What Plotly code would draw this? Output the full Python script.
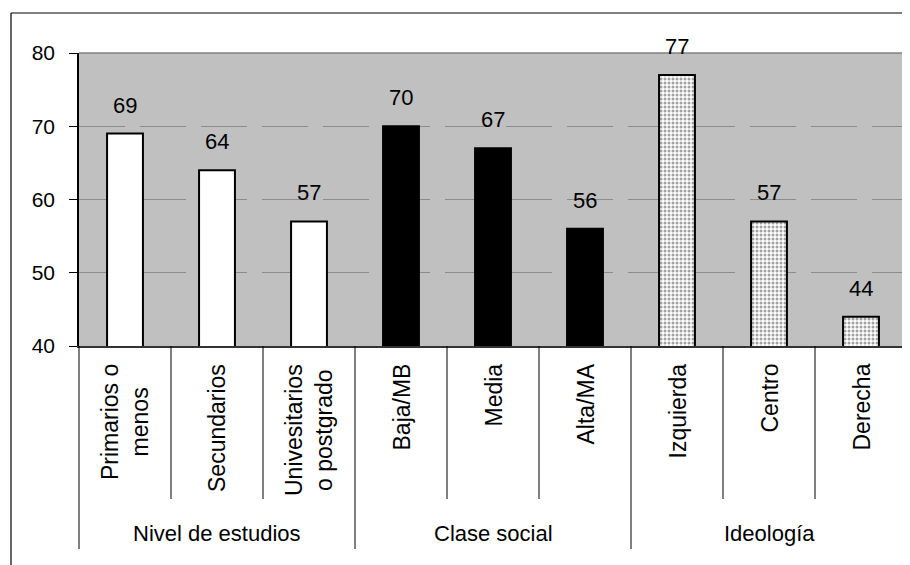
import plotly.graph_objects as go

categories = ["Primarios o<br>menos", "Secundarios", "Univesitarios<br>o postgrado",
              "Baja/MB", "Media", "Alta/MA",
              "Izquierda", "Centro", "Derecha"]
values = [69, 64, 57, 70, 67, 56, 77, 57, 44]
groups = ["Nivel de estudios", "Clase social", "Ideología"]
group_sizes = [3, 3, 3]
fill_colors = ["white", "white", "white", "black", "black", "black", "white", "white", "white"]
patterns = ["", "", "", "", "", "", ".", ".", "."]
y_ticks = [40, 50, 60, 70, 80]

OFF = 8  # page body margin
W, H = 910 - OFF, 565 - OFF
L, T = 79 - OFF, 53 - OFF
RIGHT, BOTTOM = 907 - OFF, 346 - OFF
R, B = W - RIGHT, H - BOTTOM
plot_h = BOTTOM - T
plot_w = RIGHT - L

def py(pix):
    # reference pixel y (from top of window) -> paper y
    return (BOTTOM - (pix - OFF)) / plot_h

def px(pix):
    return ((pix - OFF) - L) / plot_w

FONT = "Liberation Sans, Arial"
x = list(range(len(categories)))
n = len(categories)

fig = go.Figure()
fig.add_trace(go.Bar(
    x=x, y=values, width=0.39,
    marker=dict(color=fill_colors, line=dict(color="black", width=2),
                pattern=dict(shape=patterns, fgcolor="black", bgcolor="white",
                             size=4, solidity=0.45, fillmode="overlay")),
    hoverinfo="skip", showlegend=False,
))

annotations = []
for xi, v in zip(x, values):
    annotations.append(dict(x=xi, y=v, xref="x", yref="y", text=str(v), showarrow=False,
                            yanchor="bottom", yshift=14,
                            font=dict(family=FONT, size=22, color="black")))
for xi, c in zip(x, categories):
    annotations.append(dict(x=(xi + 0.5) / n, y=py(362), xref="paper", yref="paper", text=c,
                            showarrow=False, textangle=-90, yanchor="top", xanchor="center",
                            align="center",
                            font=dict(family=FONT, size=23, color="black")))
start = 0
for g, s in zip(groups, group_sizes):
    annotations.append(dict(x=(start + s / 2) / n, y=py(533), xref="paper", yref="paper", text=g,
                            showarrow=False, yanchor="middle", xanchor="center",
                            font=dict(family=FONT, size=22, color="black")))
    start += s

shapes = []
bounds = set([0])
acc = 0
for s in group_sizes:
    acc += s
    bounds.add(acc)
for k in range(n + 1):
    bottom = 549 if k in bounds else 499
    shapes.append(dict(type="line", xref="paper", yref="paper", x0=k / n, x1=k / n,
                       y0=0, y1=py(bottom), line=dict(color="black", width=1)))
# plot area border (top/right)
shapes.append(dict(type="line", xref="paper", yref="paper", x0=0, x1=1, y0=1, y1=1,
                   line=dict(color="#808080", width=1.5)))
shapes.append(dict(type="line", xref="paper", yref="paper", x0=1, x1=1, y0=0, y1=1,
                   line=dict(color="#808080", width=1.5)))
# outer chart frame (left, top)
shapes.append(dict(type="line", xref="paper", yref="paper", x0=px(11), x1=px(11),
                   y0=py(13), y1=py(570), line=dict(color="black", width=1.2)))
shapes.append(dict(type="line", xref="paper", yref="paper", x0=px(11), x1=px(915),
                   y0=py(13), y1=py(13), line=dict(color="black", width=1.2)))

fig.update_layout(
    width=W, height=H,
    margin=dict(l=L, r=R, t=T, b=B, pad=0),
    paper_bgcolor="white", plot_bgcolor="#C0C0C0",
    font=dict(family=FONT, size=21, color="black"),
    annotations=annotations, shapes=shapes,
    xaxis=dict(range=[-0.5, n - 0.5], showticklabels=False, ticks="", showgrid=False,
               zeroline=False, showline=True, linecolor="#333333", linewidth=1.5),
    yaxis=dict(range=[40, 80], tickvals=y_ticks, ticks="outside", ticklen=8, tickcolor="black",
               tickwidth=1, showline=True, linecolor="black", linewidth=1.5,
               showgrid=True, gridcolor="#8c8c8c", gridwidth=1, griddash="46px,15px",
               zeroline=False, ticklabelstandoff=10,
               tickfont=dict(family=FONT, size=21, color="black")),
)

fig.write_html("out.html")
